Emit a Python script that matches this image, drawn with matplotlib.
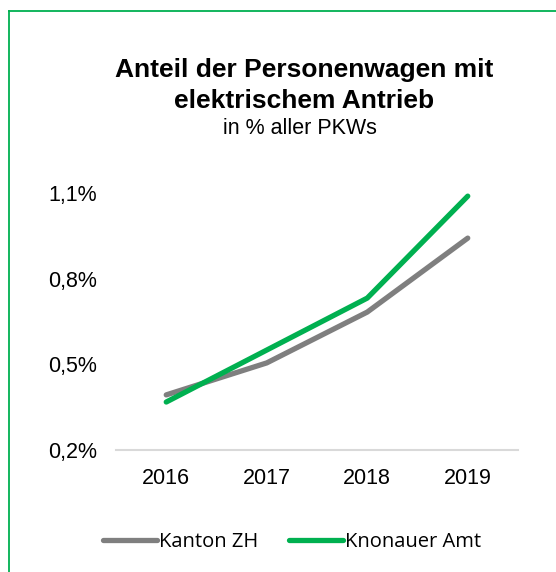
import matplotlib.pyplot as plt
from matplotlib.lines import Line2D
from matplotlib.ticker import FuncFormatter

# data
jahre = ['2016', '2017', '2018', '2019']
kanton_zh = [0.393, 0.505, 0.683, 0.942]
knonauer_amt = [0.368, 0.550, 0.732, 1.089]
y_ticks = [0.2, 0.5, 0.8, 1.1]

grau = '#7f7f7f'
gruen = '#00b050'

plt.rcParams['font.family'] = ['Liberation Sans', 'DejaVu Sans']

fig = plt.figure(figsize=(5.56, 5.72), dpi=100)
W, H = 556, 572
ax = fig.add_axes([116 / W, 1 - 450 / H, (518 - 116) / W, (450 - 193) / H])

x = range(len(jahre))
ax.plot(x, kanton_zh, color=grau, lw=3.8, solid_capstyle='round', label='Kanton ZH')
ax.plot(x, knonauer_amt, color=gruen, lw=3.8, solid_capstyle='round', label='Knonauer Amt')

ax.set_xlim(-0.5, len(jahre) - 0.5)
ax.set_ylim(0.2, 1.1)
ax.set_yticks(y_ticks)
ax.yaxis.set_major_formatter(FuncFormatter(lambda v, p: f'{v:.1f}%'.replace('.', ',')))
ax.set_xticks(list(x))
ax.set_xticklabels(jahre)
ax.tick_params(axis='both', length=0, labelsize=15.5, colors='black')
ax.tick_params(axis='y', pad=13.5)
ax.tick_params(axis='x', pad=13)
for s in ['top', 'right', 'left']:
    ax.spines[s].set_visible(False)
ax.spines['bottom'].set_color('#d9d9d9')
ax.spines['bottom'].set_linewidth(1.5)

# title block
fig.text(304 / W, 1 - 70 / H, 'Anteil der Personenwagen mit', ha='center', va='center',
         fontsize=19, fontweight='bold')
fig.text(304 / W, 1 - 101 / H, 'elektrischem Antrieb', ha='center', va='center',
         fontsize=19, fontweight='bold')
fig.text(300 / W, 1 - 129 / H, 'in % aller PKWs', ha='center', va='center', fontsize=15.5)

fig.legend(loc='center', bbox_to_anchor=(292 / W, 1 - 542 / H), ncol=2, frameon=False,
           handlelength=2.7, handletextpad=0.1, columnspacing=1.5,
           prop={'family': ['Open Sans', 'DejaVu Sans'], 'size': 14.5})

# green frame
fig.add_artist(Line2D([9 / W, 9 / W], [0, 1 - 11 / H], color=gruen, lw=1.3))
fig.add_artist(Line2D([9 / W, 1], [1 - 11 / H, 1 - 11 / H], color=gruen, lw=1.3))

fig.savefig('out.png', dpi=100)
